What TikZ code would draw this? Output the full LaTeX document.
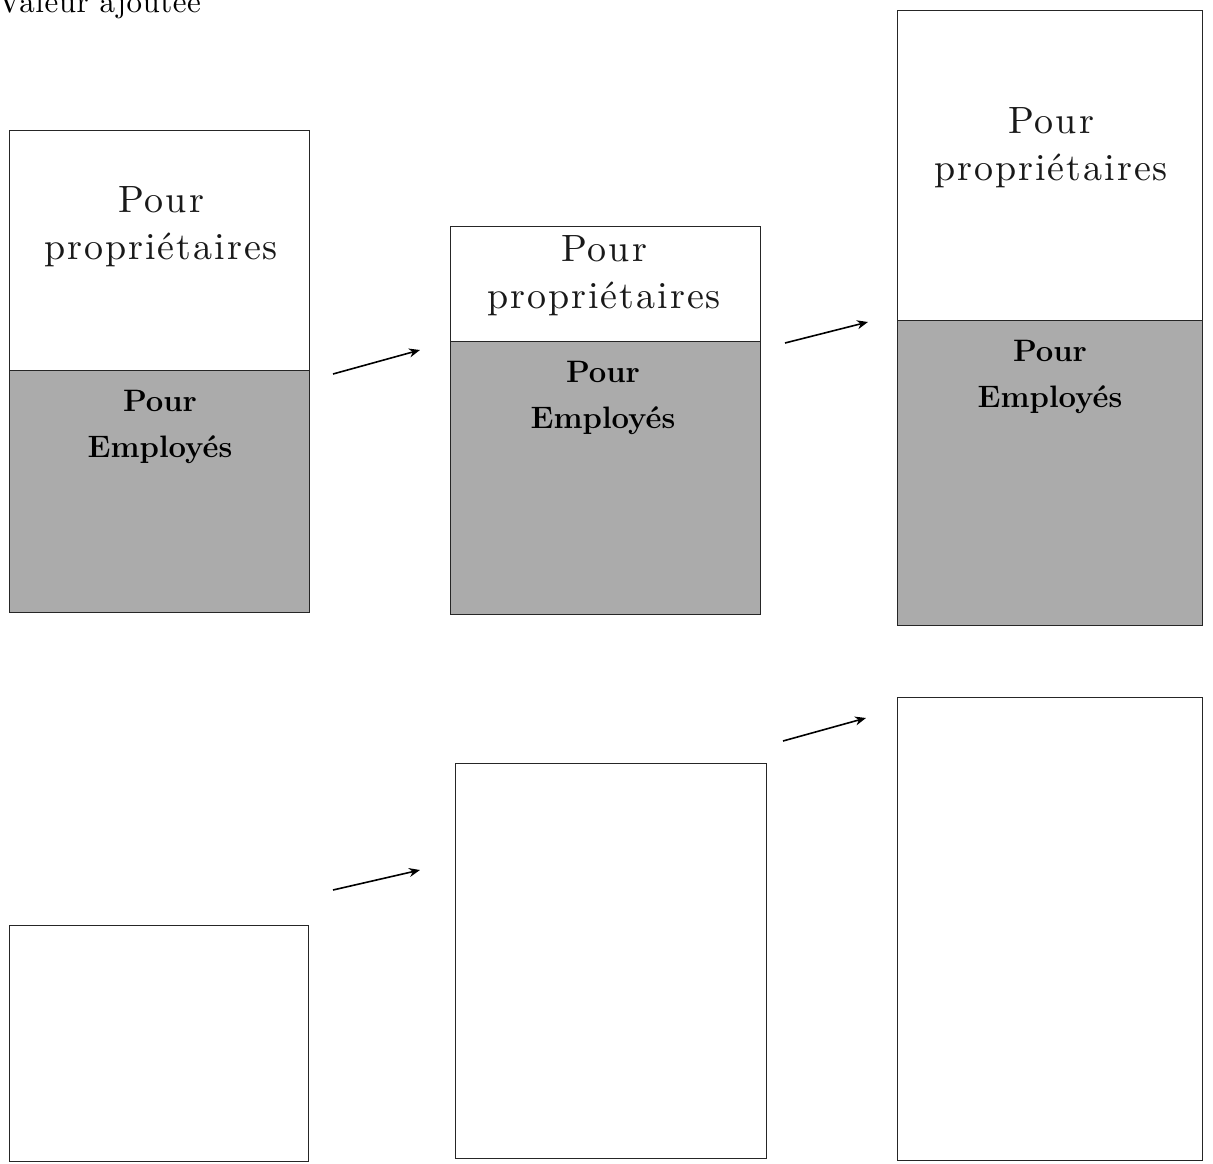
\documentclass[tikz,border=0pt]{standalone}
\usepackage{fontspec}
\usetikzlibrary{arrows.meta}
% tracked copies of the roman face for the captions and the heading
\newfontfamily\spacedrm{lmroman10-regular.otf}[LetterSpace=5.3]
\newfontfamily\titlerm{lmroman10-regular.otf}[LetterSpace=1.7]
\begin{document}
\begin{tikzpicture}[x=1pt,y=-1pt,
  part/.style={draw=black!85, line width=0.9pt, inner sep=0pt, outer sep=0pt, anchor=north west},
  owners/.style={part, fill=white},
  staff/.style={part, fill=black!33},
  emptybox/.style={part, fill=white},
  lbl/.style={font=\spacedrm\fontsize{38}{47}\selectfont, align=center, text=black!90},
  lblb/.style={font=\fontsize{31}{46}\selectfont\bfseries, align=center, text=black},
  growth/.style={line width=1.6pt, -{Stealth[length=11pt,width=9pt]}}
]
\useasboundingbox (0,0) rectangle (1213,1164);
\clip (0,0) rectangle (1213,1164);

% heading
\node[anchor=base west, inner sep=0pt, font=\titlerm\fontsize{31}{34}\selectfont] (title) at (-2,13) {Valeur ajoutée};

% upper row: split bars
\node[owners, minimum width=300pt, minimum height=240pt] (o1) at (9,130) {};
\node[staff,  minimum width=300pt, minimum height=242pt] (s1) at (9,370) {};
\node[owners, minimum width=310pt, minimum height=115pt] (o2) at (450,226) {};
\node[staff,  minimum width=310pt, minimum height=273pt] (s2) at (450,341) {};
\node[owners, minimum width=305pt, minimum height=310pt] (o3) at (897,10) {};
\node[staff,  minimum width=305pt, minimum height=305pt] (s3) at (897,320) {};

\node[lbl]  (t1a) at (161,227) {Pour\\propriétaires};
\node[lblb] (t1b) at (160,427) {Pour\\Employés};
\node[lbl]  (t2a) at (604,276) {Pour\\propriétaires};
\node[lblb] (t2b) at (603,398) {Pour\\Employés};
\node[lbl]  (t3a) at (1051,148) {Pour\\propriétaires};
\node[lblb] (t3b) at (1050,377) {Pour\\Employés};

% lower row: empty bars
\node[emptybox, minimum width=299pt, minimum height=236pt] (b4) at (9,925) {};
\node[emptybox, minimum width=311pt, minimum height=395pt] (b5) at (455,763) {};
\node[emptybox, minimum width=305pt, minimum height=463pt] (b6) at (897,697) {};

% growth arrows
\coordinate (a1s) at (333,374); \coordinate (a1e) at (420,350);
\coordinate (a2s) at (785,343); \coordinate (a2e) at (868,322);
\coordinate (a3s) at (333,890); \coordinate (a3e) at (420,870);
\coordinate (a4s) at (783,741); \coordinate (a4e) at (866,718);
\draw[growth] (a1s) -- (a1e);
\draw[growth] (a2s) -- (a2e);
\draw[growth] (a3s) -- (a3e);
\draw[growth] (a4s) -- (a4e);
\end{tikzpicture}
\end{document}
